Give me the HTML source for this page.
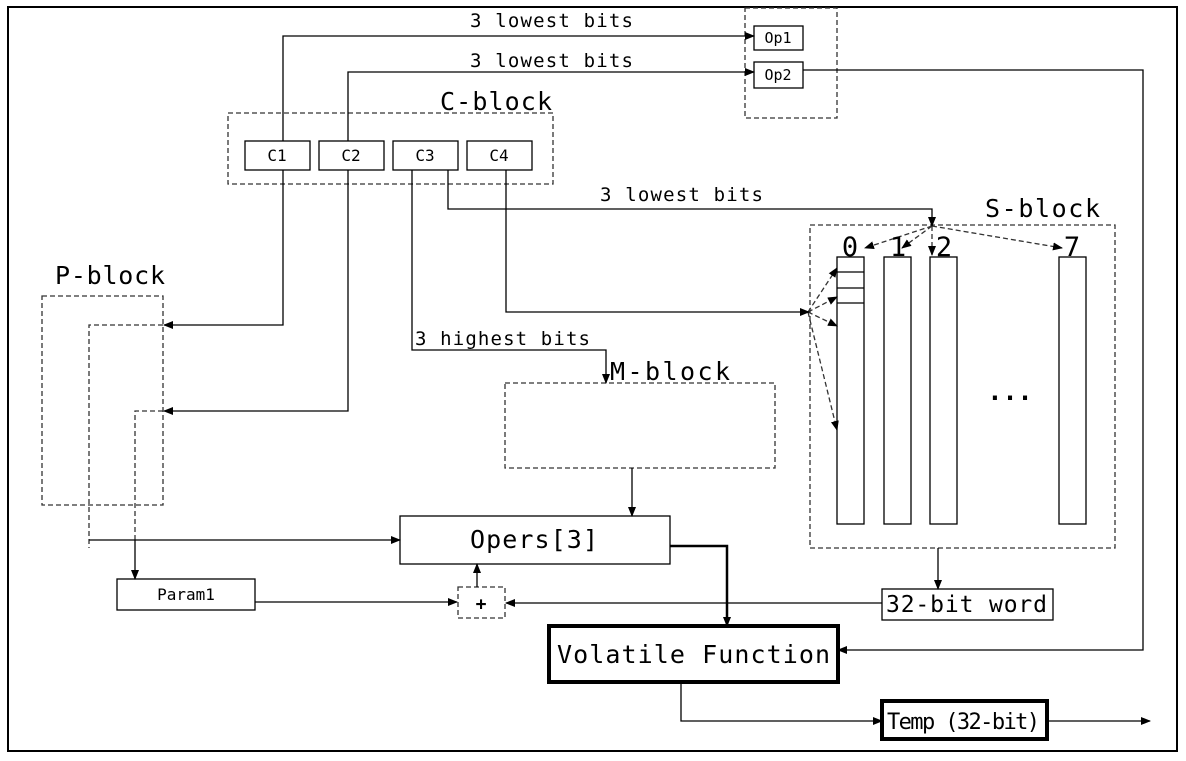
<!DOCTYPE html>
<html><head><meta charset="utf-8"><style>
html,body{margin:0;padding:0;background:#fff;}
svg{display:block;}
text{font-family:"DejaVu Sans Mono","Liberation Mono",monospace;fill:#000;}
</style></head><body>
<svg width="1186" height="761" viewBox="0 0 1186 761" xmlns="http://www.w3.org/2000/svg">
<defs>
<marker id="a" markerWidth="10" markerHeight="8" refX="9" refY="4" orient="auto" markerUnits="userSpaceOnUse"><path d="M0,0 L10,4 L0,8 z" fill="#000"/></marker>
</defs>
<rect x="8" y="7" width="1169" height="744" fill="none" stroke="#000" stroke-width="2"/>
<g fill="none" stroke="#000" stroke-width="1.3">
<g stroke-dasharray="5,3" stroke="#333">
<rect x="745" y="8" width="92" height="110"/>
<rect x="228" y="113" width="325" height="71"/>
<rect x="810" y="225" width="305" height="323"/>
<rect x="42" y="296" width="121" height="209"/>
<rect x="505" y="383" width="270" height="85"/>
<rect x="458" y="587" width="47" height="31"/>
<polyline points="163,325 89,325 89,548"/>
<polyline points="163,411 135,411 135,540"/>
<line x1="932" y1="226" x2="865" y2="248" marker-end="url(#a)"/>
<line x1="932" y1="226" x2="902" y2="248" marker-end="url(#a)"/>
<line x1="932" y1="226" x2="932" y2="255" marker-end="url(#a)"/>
<line x1="932" y1="226" x2="1062" y2="248" marker-end="url(#a)"/>
<line x1="808" y1="312" x2="837" y2="268" marker-end="url(#a)"/>
<line x1="808" y1="312" x2="837" y2="297" marker-end="url(#a)"/>
<line x1="808" y1="312" x2="837" y2="326" marker-end="url(#a)"/>
<line x1="808" y1="312" x2="837" y2="430" marker-end="url(#a)"/>
</g>
<rect x="754" y="26" width="49" height="24"/>
<rect x="754" y="62" width="49" height="26"/>
<rect x="245" y="141" width="65" height="29"/>
<rect x="319" y="141" width="65" height="29"/>
<rect x="393" y="141" width="65" height="29"/>
<rect x="467" y="141" width="65" height="29"/>
<rect x="837" y="257" width="27" height="267"/>
<rect x="884" y="257" width="27" height="267"/>
<rect x="930" y="257" width="27" height="267"/>
<rect x="1059" y="257" width="27" height="267"/>
<line x1="837" y1="272" x2="864" y2="272"/>
<line x1="837" y1="288" x2="864" y2="288"/>
<line x1="837" y1="303" x2="864" y2="303"/>
<rect x="400" y="516" width="270" height="48"/>
<rect x="117" y="579" width="138" height="31"/>
<rect x="882" y="589" width="171" height="31"/>
<polyline points="283,141 283,36 754,36" marker-end="url(#a)"/>
<polyline points="348,141 348,72 754,72" marker-end="url(#a)"/>
<polyline points="803,70 1143,70 1143,650 838,650" marker-end="url(#a)"/>
<polyline points="283,170 283,325 164,325" marker-end="url(#a)"/>
<polyline points="348,170 348,411 164,411" marker-end="url(#a)"/>
<polyline points="412,170 412,350 606,350 606,383" marker-end="url(#a)"/>
<polyline points="448,170 448,209 932,209 932,226" marker-end="url(#a)"/>
<polyline points="506,170 506,312 809,312" marker-end="url(#a)"/>
<polyline points="89,540 400,540" marker-end="url(#a)"/>
<polyline points="135,540 135,579" marker-end="url(#a)"/>
<line x1="632" y1="468" x2="632" y2="516" marker-end="url(#a)"/>
<line x1="255" y1="602" x2="457" y2="602" marker-end="url(#a)"/>
<line x1="477" y1="587" x2="477" y2="564" marker-end="url(#a)"/>
<line x1="938" y1="548" x2="938" y2="589" marker-end="url(#a)"/>
<line x1="882" y1="603" x2="506" y2="603" marker-end="url(#a)"/>
<polyline points="681,682 681,721 882,721" marker-end="url(#a)"/>
<line x1="1047" y1="721" x2="1150" y2="721" marker-end="url(#a)"/>
<polyline points="670,546 727,546 727,626" stroke-width="2.5" marker-end="url(#a)"/>
<rect x="549" y="626" width="289" height="56" stroke-width="4"/>
<rect x="882" y="701" width="165" height="38" stroke-width="4"/>
</g>
<g font-size="19">
<text x="470" y="27" textLength="163" lengthAdjust="spacing">3 lowest bits</text>
<text x="470" y="67" textLength="163" lengthAdjust="spacing">3 lowest bits</text>
<text x="600" y="201" textLength="163" lengthAdjust="spacing">3 lowest bits</text>
<text x="415" y="345" textLength="175" lengthAdjust="spacing">3 highest bits</text>
</g>
<g font-size="15">
<text x="778" y="43" text-anchor="middle">Op1</text>
<text x="778" y="80" text-anchor="middle">Op2</text>
<text x="277" y="161" text-anchor="middle" font-size="16">C1</text>
<text x="351" y="161" text-anchor="middle" font-size="16">C2</text>
<text x="425" y="161" text-anchor="middle" font-size="16">C3</text>
<text x="499" y="161" text-anchor="middle" font-size="16">C4</text>
<text x="186" y="600" text-anchor="middle" font-size="16">Param1</text>
</g>
<g font-size="25">
<text x="440" y="110" textLength="112" lengthAdjust="spacing">C-block</text>
<text x="985" y="217" textLength="115" lengthAdjust="spacing">S-block</text>
<text x="55" y="284" textLength="110" lengthAdjust="spacing">P-block</text>
<text x="610" y="380" textLength="120" lengthAdjust="spacing">M-block</text>
<text x="470" y="548" textLength="128" lengthAdjust="spacing">Opers[3]</text>
<text x="850" y="256" text-anchor="middle" font-size="27">0</text>
<text x="898" y="256" text-anchor="middle" font-size="27">1</text>
<text x="944" y="256" text-anchor="middle" font-size="27">2</text>
<text x="1072" y="256" text-anchor="middle" font-size="27">7</text>
<text x="1010" y="400" text-anchor="middle" font-weight="bold">...</text>
<text x="557" y="663" textLength="273" lengthAdjust="spacing">Volatile Function</text>
<text x="887" y="729" textLength="153" lengthAdjust="spacing" font-size="22">Temp (32-bit)</text>
<text x="886" y="612" textLength="161" lengthAdjust="spacing" font-size="23">32-bit word</text>
<text x="481" y="610" text-anchor="middle" font-weight="bold" font-size="18">+</text>
</g>
</svg>
</body></html>
